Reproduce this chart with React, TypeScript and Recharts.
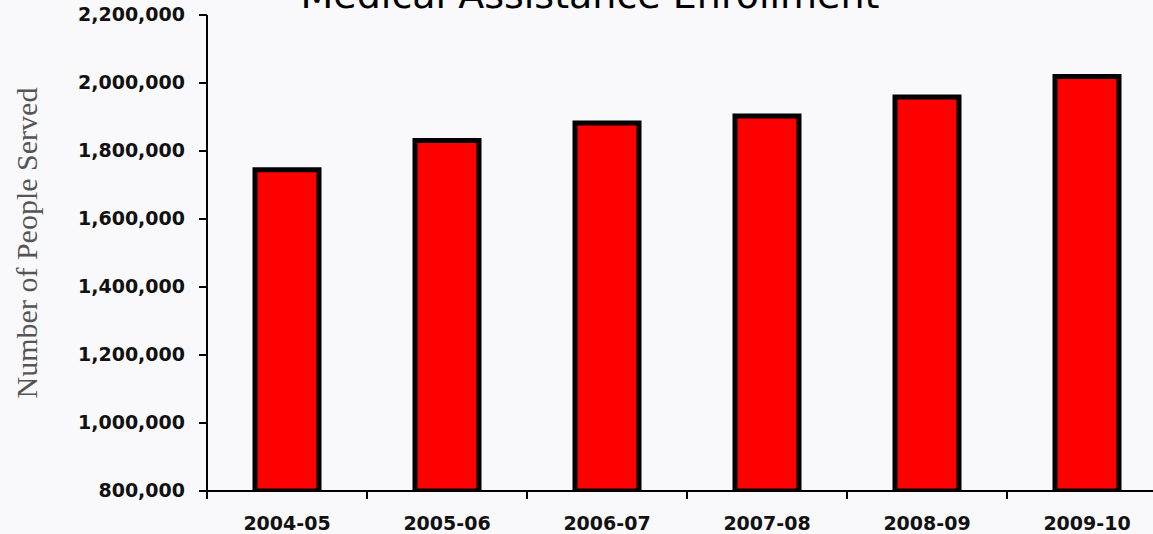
import { BarChart, Bar, XAxis, YAxis } from "recharts";

const years = ["2004-05", "2005-06", "2006-07", "2007-08", "2008-09", "2009-10"];
const served = [1745000, 1831000, 1882000, 1903000, 1959000, 2019000];
const yTicks = [800000, 1000000, 1200000, 1400000, 1600000, 1800000, 2000000, 2200000];
const bandEdges = [0, 1, 2, 3, 4, 5, 6];

const data = years.map((year, i) => ({ year, served: served[i], pos: i + 0.5 }));

const tickFont = "'DejaVu Sans', Verdana, sans-serif";

function fmt(n: number) {
  return n.toLocaleString("en-US");
}

function YTick(props: any) {
  const { x, y, payload } = props;
  return (
    <text x={x} y={y} dy={6} textAnchor="end" fontFamily={tickFont} fontWeight="bold" fontSize={19} fill="#111">
      {fmt(payload.value)}
    </text>
  );
}

function XTick(props: any) {
  const { x, y, payload } = props;
  return (
    <text x={x} y={y} dy={37} textAnchor="middle" fontFamily={tickFont} fontWeight="bold" fontSize={19} fill="#111">
      {payload.value}
    </text>
  );
}

export default function App() {
  return (
    <div
      style={{
        position: "fixed",
        left: 0,
        top: 0,
        width: 1153,
        height: 534,
        overflow: "hidden",
        background: "#f9f9fb",
      }}
    >
      <BarChart width={1170} height={534} data={data} margin={{ top: 15, right: 3, bottom: 0, left: 0 }}>
        <XAxis
          dataKey="year"
          height={1}
          tickLine={false}
          tickSize={0}
          tick={<XTick />}
          axisLine={{ stroke: "#000", strokeWidth: 2 }}
        />
        {/* band boundary ticks along the bottom */}
        <XAxis
          xAxisId="edges"
          type="number"
          dataKey="pos"
          domain={[0, 6]}
          ticks={bandEdges}
          height={42}
          tick={() => <g />}
          tickSize={7}
          tickLine={{ stroke: "#000", strokeWidth: 2 }}
          axisLine={false}
        />
        <YAxis
          width={207}
          domain={[800000, 2200000]}
          ticks={yTicks}
          allowDataOverflow
          tickSize={8}
          tickMargin={14}
          tick={<YTick />}
          tickLine={{ stroke: "#000", strokeWidth: 2 }}
          axisLine={{ stroke: "#000", strokeWidth: 2 }}
          label={{
            content: () => (
              <text
                transform="translate(37,243) rotate(-90)"
                textAnchor="middle"
                fontFamily="'Liberation Serif', 'Times New Roman', serif"
                fontSize={30}
                fill="#555"
              >
                Number of People Served
              </text>
            ),
          }}
        />
        <Bar dataKey="served" fill="#ff0000" stroke="#000" strokeWidth={5} barSize={64} isAnimationActive={false} />
      </BarChart>
      <svg
        width={1153}
        height={534}
        style={{ position: "absolute", left: 0, top: 0, pointerEvents: "none" }}
      >
        <text x={590} y={8} textAnchor="middle" fontFamily={tickFont} fontSize={38} fill="#000">
          Medical Assistance Enrollment
        </text>
      </svg>
    </div>
  );
}
